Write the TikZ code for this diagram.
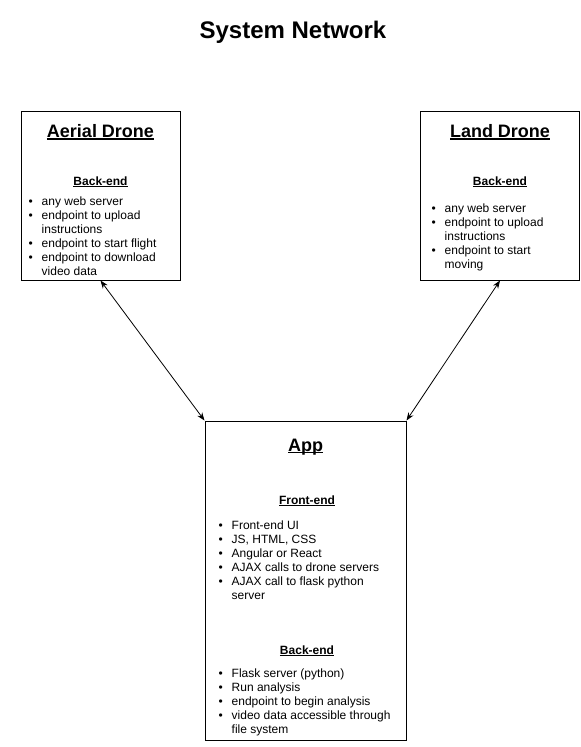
\documentclass[tikz,border=0pt]{standalone}
\usepackage{fontspec}
\setmainfont{Liberation Sans}
\usetikzlibrary{arrows.meta}

\newsavebox{\ulinebox}
\newcommand{\undl}[1]{\sbox{\ulinebox}{#1}\makebox[0pt][l]{\usebox{\ulinebox}}\rule[-0.12em]{\wd\ulinebox}{0.07em}}
\newcommand{\itm}{\textbullet &}

\begin{document}
	\begin{tikzpicture}[x=1pt, y=-1pt, line width=1pt,
		box/.style={draw, rectangle, inner sep=0pt},
		boxtitle/.style={font=\fontsize{18}{20}\selectfont\bfseries},
		part/.style={font=\fontsize{12}{14}\selectfont\bfseries},
		itemlist/.style={anchor=base west, inner sep=0pt, font=\fontsize{12}{14}\selectfont},
		link/.style={{Stealth[length=8pt,width=6pt]}-{Stealth[length=8pt,width=6pt]}, line width=0.8pt}]
		\useasboundingbox (0,0) rectangle (581,747);
		
		\node[font=\fontsize{24}{26}\selectfont\bfseries] (title) at (293,32) {System Network};
		
		% Aerial drone
		\node[box, minimum width=159pt, minimum height=169pt] (aerial) at (100.5,195.5) {};
		\node[boxtitle] (aerialT) at (100.5,132) {\undl{Aerial Drone}};
		\node[part] (aerialB) at (100.5,182) {\undl{Back-end}};
		\node[itemlist] (aerialL) at (28,205) {\begin{tabular}[t]{@{}l@{\hspace{9pt}}l@{}}
			\itm any web server\\
			\itm endpoint to upload\\
			& instructions\\
			\itm endpoint to start flight\\
			\itm endpoint to download\\
			& video data
		\end{tabular}};
		
		% Land drone
		\node[box, minimum width=159pt, minimum height=169pt] (land) at (500,195.5) {};
		\node[boxtitle] (landT) at (500,132) {\undl{Land Drone}};
		\node[part] (landB) at (500,182) {\undl{Back-end}};
		\node[itemlist] (landL) at (431,212) {\begin{tabular}[t]{@{}l@{\hspace{9pt}}l@{}}
			\itm any web server\\
			\itm endpoint to upload\\
			& instructions\\
			\itm endpoint to start\\
			& moving
		\end{tabular}};
		
		% App
		\node[box, minimum width=201pt, minimum height=319pt] (app) at (305.5,580.5) {};
		\node[boxtitle] (appT) at (305.5,447) {\undl{App}};
		\node[part] (appF) at (307,501) {\undl{Front-end}};
		\node[itemlist] (appFL) at (218,529) {\begin{tabular}[t]{@{}l@{\hspace{9pt}}l@{}}
			\itm Front-end UI\\
			\itm JS, HTML, CSS\\
			\itm Angular or React\\
			\itm AJAX calls to drone servers\\
			\itm AJAX call to flask python\\
			& server
		\end{tabular}};
		\node[part] (appB) at (307,651) {\undl{Back-end}};
		\node[itemlist] (appBL) at (218,677) {\begin{tabular}[t]{@{}l@{\hspace{9pt}}l@{}}
			\itm Flask server (python)\\
			\itm Run analysis\\
			\itm endpoint to begin analysis\\
			\itm video data accessible through\\
			& file system
		\end{tabular}};
		
		% Links
		\draw[link] (aerial.south) -- (app.north west);
		\draw[link] (land.south) -- (app.north east);
	\end{tikzpicture}
\end{document}
